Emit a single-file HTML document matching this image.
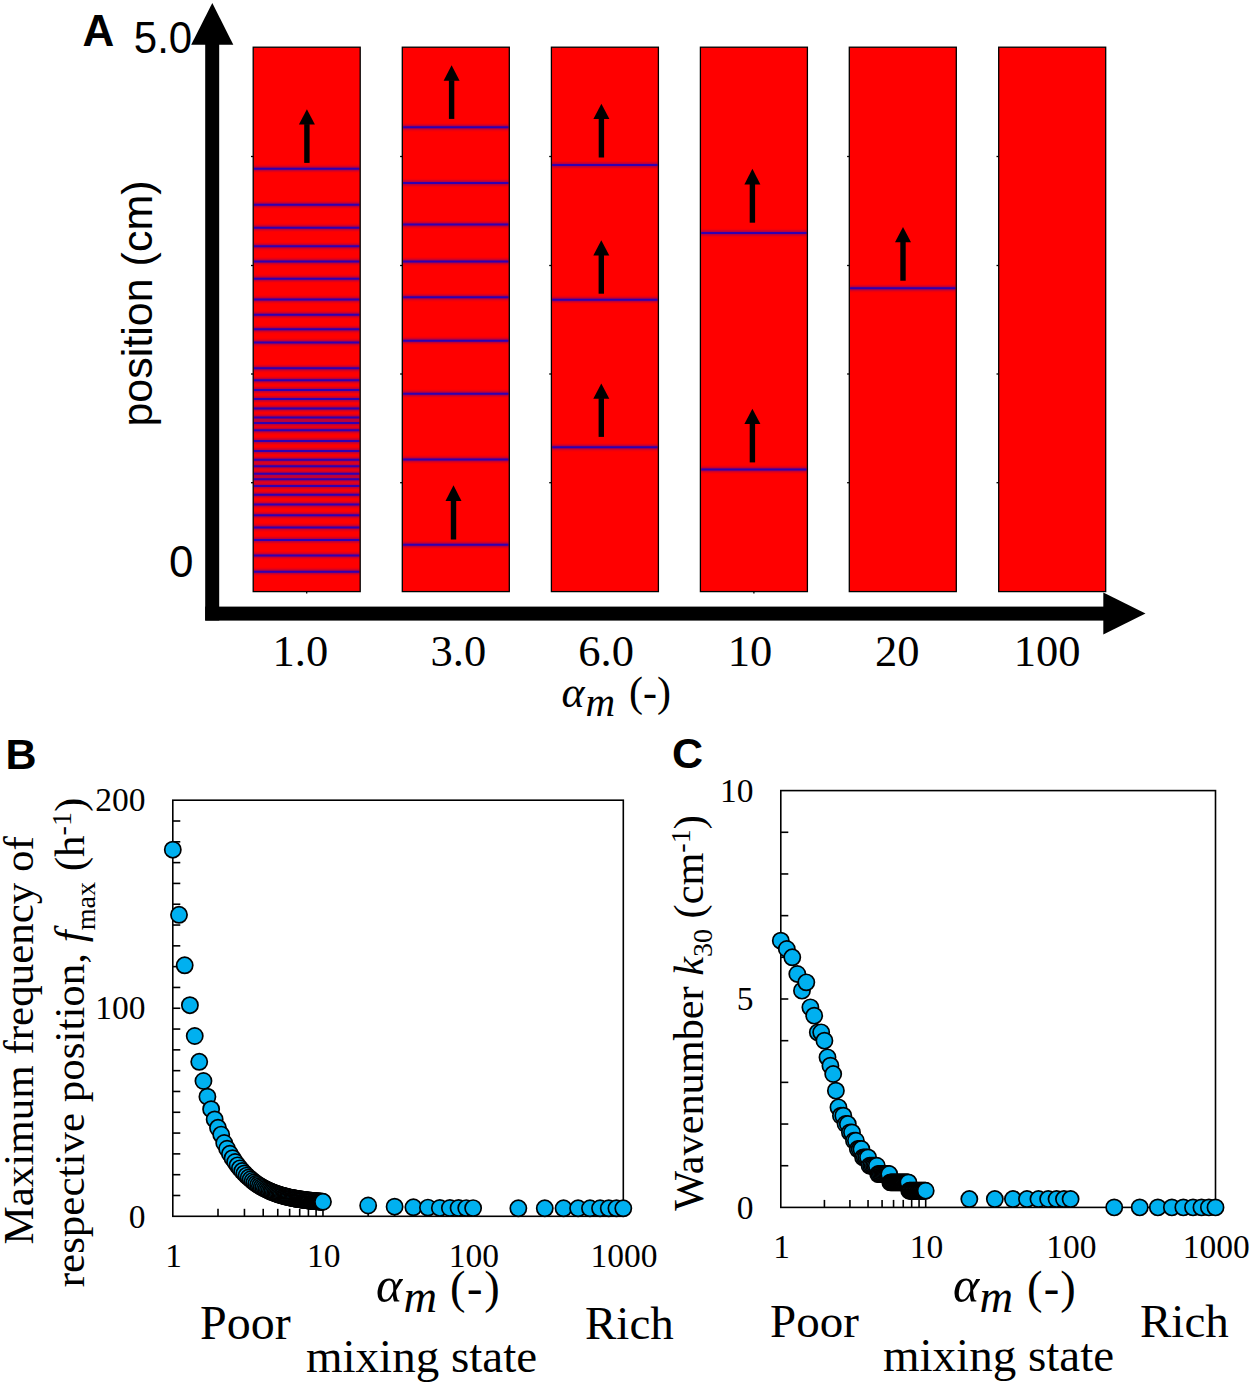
<!DOCTYPE html>
<html><head><meta charset="utf-8"><style>html,body{margin:0;padding:0;background:#fff;}svg{display:block;}</style></head>
<body><svg width="1250" height="1385" viewBox="0 0 1250 1385">
<defs><filter id="lb" filterUnits="userSpaceOnUse" x="0" y="0" width="1250" height="700"><feGaussianBlur stdDeviation="0 0.8"/></filter></defs>
<rect width="1250" height="1385" fill="#fff"/>
<rect x="253.20" y="47.2" width="107.0" height="544.40" fill="#ff0000"/>
<g filter="url(#lb)" opacity="0.45">
<line x1="254.00" x2="359.40" y1="168.7" y2="168.7" stroke="#3000b0" stroke-width="4.5"/>
<line x1="254.00" x2="359.40" y1="204.8" y2="204.8" stroke="#3000b0" stroke-width="4.5"/>
<line x1="254.00" x2="359.40" y1="227.7" y2="227.7" stroke="#3000b0" stroke-width="4.5"/>
<line x1="254.00" x2="359.40" y1="246.2" y2="246.2" stroke="#3000b0" stroke-width="4.5"/>
<line x1="254.00" x2="359.40" y1="261.6" y2="261.6" stroke="#3000b0" stroke-width="4.5"/>
<line x1="254.00" x2="359.40" y1="278.8" y2="278.8" stroke="#3000b0" stroke-width="4.5"/>
<line x1="254.00" x2="359.40" y1="299.5" y2="299.5" stroke="#3000b0" stroke-width="4.5"/>
<line x1="254.00" x2="359.40" y1="314.8" y2="314.8" stroke="#3000b0" stroke-width="4.5"/>
<line x1="254.00" x2="359.40" y1="329.2" y2="329.2" stroke="#3000b0" stroke-width="4.5"/>
<line x1="254.00" x2="359.40" y1="342.4" y2="342.4" stroke="#3000b0" stroke-width="4.5"/>
<line x1="254.00" x2="359.40" y1="368.3" y2="368.3" stroke="#3000b0" stroke-width="4.5"/>
<line x1="254.00" x2="359.40" y1="380.3" y2="380.3" stroke="#3000b0" stroke-width="4.5"/>
<line x1="254.00" x2="359.40" y1="390.1" y2="390.1" stroke="#3000b0" stroke-width="4.5"/>
<line x1="254.00" x2="359.40" y1="398.9" y2="398.9" stroke="#3000b0" stroke-width="4.5"/>
<line x1="254.00" x2="359.40" y1="408.5" y2="408.5" stroke="#3000b0" stroke-width="4.5"/>
<line x1="254.00" x2="359.40" y1="417.6" y2="417.6" stroke="#3000b0" stroke-width="4.5"/>
<line x1="254.00" x2="359.40" y1="423.0" y2="423.0" stroke="#3000b0" stroke-width="4.5"/>
<line x1="254.00" x2="359.40" y1="430.2" y2="430.2" stroke="#3000b0" stroke-width="4.5"/>
<line x1="254.00" x2="359.40" y1="441.0" y2="441.0" stroke="#3000b0" stroke-width="4.5"/>
<line x1="254.00" x2="359.40" y1="450.9" y2="450.9" stroke="#3000b0" stroke-width="4.5"/>
<line x1="254.00" x2="359.40" y1="459.8" y2="459.8" stroke="#3000b0" stroke-width="4.5"/>
<line x1="254.00" x2="359.40" y1="466.3" y2="466.3" stroke="#3000b0" stroke-width="4.5"/>
<line x1="254.00" x2="359.40" y1="473.8" y2="473.8" stroke="#3000b0" stroke-width="4.5"/>
<line x1="254.00" x2="359.40" y1="479.3" y2="479.3" stroke="#3000b0" stroke-width="4.5"/>
<line x1="254.00" x2="359.40" y1="486.0" y2="486.0" stroke="#3000b0" stroke-width="4.5"/>
<line x1="254.00" x2="359.40" y1="494.7" y2="494.7" stroke="#3000b0" stroke-width="4.5"/>
<line x1="254.00" x2="359.40" y1="504.5" y2="504.5" stroke="#3000b0" stroke-width="4.5"/>
<line x1="254.00" x2="359.40" y1="515.2" y2="515.2" stroke="#3000b0" stroke-width="4.5"/>
<line x1="254.00" x2="359.40" y1="527.4" y2="527.4" stroke="#3000b0" stroke-width="4.5"/>
<line x1="254.00" x2="359.40" y1="539.9" y2="539.9" stroke="#3000b0" stroke-width="4.5"/>
<line x1="254.00" x2="359.40" y1="555.6" y2="555.6" stroke="#3000b0" stroke-width="4.5"/>
<line x1="254.00" x2="359.40" y1="571.7" y2="571.7" stroke="#3000b0" stroke-width="4.5"/>
</g>
<line x1="254.00" x2="359.40" y1="168.7" y2="168.7" stroke="#3000b0" stroke-width="2.0"/>
<line x1="254.00" x2="359.40" y1="204.8" y2="204.8" stroke="#3000b0" stroke-width="2.0"/>
<line x1="254.00" x2="359.40" y1="227.7" y2="227.7" stroke="#3000b0" stroke-width="2.0"/>
<line x1="254.00" x2="359.40" y1="246.2" y2="246.2" stroke="#3000b0" stroke-width="2.0"/>
<line x1="254.00" x2="359.40" y1="261.6" y2="261.6" stroke="#3000b0" stroke-width="2.0"/>
<line x1="254.00" x2="359.40" y1="278.8" y2="278.8" stroke="#3000b0" stroke-width="2.0"/>
<line x1="254.00" x2="359.40" y1="299.5" y2="299.5" stroke="#3000b0" stroke-width="2.0"/>
<line x1="254.00" x2="359.40" y1="314.8" y2="314.8" stroke="#3000b0" stroke-width="2.0"/>
<line x1="254.00" x2="359.40" y1="329.2" y2="329.2" stroke="#3000b0" stroke-width="2.0"/>
<line x1="254.00" x2="359.40" y1="342.4" y2="342.4" stroke="#3000b0" stroke-width="2.0"/>
<line x1="254.00" x2="359.40" y1="368.3" y2="368.3" stroke="#3000b0" stroke-width="2.0"/>
<line x1="254.00" x2="359.40" y1="380.3" y2="380.3" stroke="#3000b0" stroke-width="2.0"/>
<line x1="254.00" x2="359.40" y1="390.1" y2="390.1" stroke="#3000b0" stroke-width="2.0"/>
<line x1="254.00" x2="359.40" y1="398.9" y2="398.9" stroke="#3000b0" stroke-width="2.0"/>
<line x1="254.00" x2="359.40" y1="408.5" y2="408.5" stroke="#3000b0" stroke-width="2.0"/>
<line x1="254.00" x2="359.40" y1="417.6" y2="417.6" stroke="#3000b0" stroke-width="2.0"/>
<line x1="254.00" x2="359.40" y1="423.0" y2="423.0" stroke="#3000b0" stroke-width="2.0"/>
<line x1="254.00" x2="359.40" y1="430.2" y2="430.2" stroke="#3000b0" stroke-width="2.0"/>
<line x1="254.00" x2="359.40" y1="441.0" y2="441.0" stroke="#3000b0" stroke-width="2.0"/>
<line x1="254.00" x2="359.40" y1="450.9" y2="450.9" stroke="#3000b0" stroke-width="2.0"/>
<line x1="254.00" x2="359.40" y1="459.8" y2="459.8" stroke="#3000b0" stroke-width="2.0"/>
<line x1="254.00" x2="359.40" y1="466.3" y2="466.3" stroke="#3000b0" stroke-width="2.0"/>
<line x1="254.00" x2="359.40" y1="473.8" y2="473.8" stroke="#3000b0" stroke-width="2.0"/>
<line x1="254.00" x2="359.40" y1="479.3" y2="479.3" stroke="#3000b0" stroke-width="2.0"/>
<line x1="254.00" x2="359.40" y1="486.0" y2="486.0" stroke="#3000b0" stroke-width="2.0"/>
<line x1="254.00" x2="359.40" y1="494.7" y2="494.7" stroke="#3000b0" stroke-width="2.0"/>
<line x1="254.00" x2="359.40" y1="504.5" y2="504.5" stroke="#3000b0" stroke-width="2.0"/>
<line x1="254.00" x2="359.40" y1="515.2" y2="515.2" stroke="#3000b0" stroke-width="2.0"/>
<line x1="254.00" x2="359.40" y1="527.4" y2="527.4" stroke="#3000b0" stroke-width="2.0"/>
<line x1="254.00" x2="359.40" y1="539.9" y2="539.9" stroke="#3000b0" stroke-width="2.0"/>
<line x1="254.00" x2="359.40" y1="555.6" y2="555.6" stroke="#3000b0" stroke-width="2.0"/>
<line x1="254.00" x2="359.40" y1="571.7" y2="571.7" stroke="#3000b0" stroke-width="2.0"/>
<rect x="253.20" y="47.2" width="107.0" height="544.40" fill="none" stroke="#000" stroke-width="1.3"/>
<line x1="251.00" x2="253.20" y1="156.5" y2="156.5" stroke="#000" stroke-width="1.3"/>
<line x1="251.00" x2="253.20" y1="265.5" y2="265.5" stroke="#000" stroke-width="1.3"/>
<line x1="251.00" x2="253.20" y1="374.0" y2="374.0" stroke="#000" stroke-width="1.3"/>
<line x1="251.00" x2="253.20" y1="482.7" y2="482.7" stroke="#000" stroke-width="1.3"/>
<line x1="306.70" x2="306.70" y1="591.6" y2="593.6" stroke="#000" stroke-width="1.3"/>
<rect x="402.30" y="47.2" width="107.0" height="544.40" fill="#ff0000"/>
<g filter="url(#lb)" opacity="0.45">
<line x1="403.10" x2="508.50" y1="127.3" y2="127.3" stroke="#3000b0" stroke-width="4.5"/>
<line x1="403.10" x2="508.50" y1="183.1" y2="183.1" stroke="#3000b0" stroke-width="4.5"/>
<line x1="403.10" x2="508.50" y1="224.4" y2="224.4" stroke="#3000b0" stroke-width="4.5"/>
<line x1="403.10" x2="508.50" y1="261.4" y2="261.4" stroke="#3000b0" stroke-width="4.5"/>
<line x1="403.10" x2="508.50" y1="297.2" y2="297.2" stroke="#3000b0" stroke-width="4.5"/>
<line x1="403.10" x2="508.50" y1="340.7" y2="340.7" stroke="#3000b0" stroke-width="4.5"/>
<line x1="403.10" x2="508.50" y1="393.8" y2="393.8" stroke="#3000b0" stroke-width="4.5"/>
<line x1="403.10" x2="508.50" y1="459.6" y2="459.6" stroke="#3000b0" stroke-width="4.5"/>
<line x1="403.10" x2="508.50" y1="544.7" y2="544.7" stroke="#3000b0" stroke-width="4.5"/>
</g>
<line x1="403.10" x2="508.50" y1="127.3" y2="127.3" stroke="#3000b0" stroke-width="2.0"/>
<line x1="403.10" x2="508.50" y1="183.1" y2="183.1" stroke="#3000b0" stroke-width="2.0"/>
<line x1="403.10" x2="508.50" y1="224.4" y2="224.4" stroke="#3000b0" stroke-width="2.0"/>
<line x1="403.10" x2="508.50" y1="261.4" y2="261.4" stroke="#3000b0" stroke-width="2.0"/>
<line x1="403.10" x2="508.50" y1="297.2" y2="297.2" stroke="#3000b0" stroke-width="2.0"/>
<line x1="403.10" x2="508.50" y1="340.7" y2="340.7" stroke="#3000b0" stroke-width="2.0"/>
<line x1="403.10" x2="508.50" y1="393.8" y2="393.8" stroke="#3000b0" stroke-width="2.0"/>
<line x1="403.10" x2="508.50" y1="459.6" y2="459.6" stroke="#3000b0" stroke-width="2.0"/>
<line x1="403.10" x2="508.50" y1="544.7" y2="544.7" stroke="#3000b0" stroke-width="2.0"/>
<rect x="402.30" y="47.2" width="107.0" height="544.40" fill="none" stroke="#000" stroke-width="1.3"/>
<line x1="400.10" x2="402.30" y1="156.5" y2="156.5" stroke="#000" stroke-width="1.3"/>
<line x1="400.10" x2="402.30" y1="265.5" y2="265.5" stroke="#000" stroke-width="1.3"/>
<line x1="400.10" x2="402.30" y1="374.0" y2="374.0" stroke="#000" stroke-width="1.3"/>
<line x1="400.10" x2="402.30" y1="482.7" y2="482.7" stroke="#000" stroke-width="1.3"/>
<rect x="551.40" y="47.2" width="107.0" height="544.40" fill="#ff0000"/>
<g filter="url(#lb)" opacity="0.45">
<line x1="552.20" x2="657.60" y1="165.0" y2="165.0" stroke="#3000b0" stroke-width="4.5"/>
<line x1="552.20" x2="657.60" y1="299.8" y2="299.8" stroke="#3000b0" stroke-width="4.5"/>
<line x1="552.20" x2="657.60" y1="447.3" y2="447.3" stroke="#3000b0" stroke-width="4.5"/>
</g>
<line x1="552.20" x2="657.60" y1="165.0" y2="165.0" stroke="#3000b0" stroke-width="2.0"/>
<line x1="552.20" x2="657.60" y1="299.8" y2="299.8" stroke="#3000b0" stroke-width="2.0"/>
<line x1="552.20" x2="657.60" y1="447.3" y2="447.3" stroke="#3000b0" stroke-width="2.0"/>
<rect x="551.40" y="47.2" width="107.0" height="544.40" fill="none" stroke="#000" stroke-width="1.3"/>
<line x1="549.20" x2="551.40" y1="156.5" y2="156.5" stroke="#000" stroke-width="1.3"/>
<line x1="549.20" x2="551.40" y1="265.5" y2="265.5" stroke="#000" stroke-width="1.3"/>
<line x1="549.20" x2="551.40" y1="374.0" y2="374.0" stroke="#000" stroke-width="1.3"/>
<line x1="549.20" x2="551.40" y1="482.7" y2="482.7" stroke="#000" stroke-width="1.3"/>
<rect x="700.40" y="47.2" width="107.0" height="544.40" fill="#ff0000"/>
<g filter="url(#lb)" opacity="0.45">
<line x1="701.20" x2="806.60" y1="233.1" y2="233.1" stroke="#3000b0" stroke-width="4.5"/>
<line x1="701.20" x2="806.60" y1="469.6" y2="469.6" stroke="#3000b0" stroke-width="4.5"/>
</g>
<line x1="701.20" x2="806.60" y1="233.1" y2="233.1" stroke="#3000b0" stroke-width="2.0"/>
<line x1="701.20" x2="806.60" y1="469.6" y2="469.6" stroke="#3000b0" stroke-width="2.0"/>
<rect x="700.40" y="47.2" width="107.0" height="544.40" fill="none" stroke="#000" stroke-width="1.3"/>
<line x1="753.90" x2="753.90" y1="591.6" y2="593.6" stroke="#000" stroke-width="1.3"/>
<rect x="849.30" y="47.2" width="107.0" height="544.40" fill="#ff0000"/>
<g filter="url(#lb)" opacity="0.45">
<line x1="850.10" x2="955.50" y1="288.3" y2="288.3" stroke="#3000b0" stroke-width="4.5"/>
</g>
<line x1="850.10" x2="955.50" y1="288.3" y2="288.3" stroke="#3000b0" stroke-width="2.0"/>
<rect x="849.30" y="47.2" width="107.0" height="544.40" fill="none" stroke="#000" stroke-width="1.3"/>
<line x1="847.10" x2="849.30" y1="156.5" y2="156.5" stroke="#000" stroke-width="1.3"/>
<line x1="847.10" x2="849.30" y1="265.5" y2="265.5" stroke="#000" stroke-width="1.3"/>
<line x1="847.10" x2="849.30" y1="374.0" y2="374.0" stroke="#000" stroke-width="1.3"/>
<line x1="847.10" x2="849.30" y1="482.7" y2="482.7" stroke="#000" stroke-width="1.3"/>
<rect x="998.70" y="47.2" width="107.0" height="544.40" fill="#ff0000"/>
<g filter="url(#lb)" opacity="0.45">
</g>
<rect x="998.70" y="47.2" width="107.0" height="544.40" fill="none" stroke="#000" stroke-width="1.3"/>
<line x1="996.50" x2="998.70" y1="156.5" y2="156.5" stroke="#000" stroke-width="1.3"/>
<line x1="996.50" x2="998.70" y1="265.5" y2="265.5" stroke="#000" stroke-width="1.3"/>
<line x1="996.50" x2="998.70" y1="374.0" y2="374.0" stroke="#000" stroke-width="1.3"/>
<line x1="996.50" x2="998.70" y1="482.7" y2="482.7" stroke="#000" stroke-width="1.3"/>
<polygon points="298.90,124.6 314.90,124.6 306.90,109.3" fill="#000"/>
<rect x="304.20" y="124.1" width="5.4" height="38.80" fill="#000"/>
<polygon points="443.60,80.8 459.60,80.8 451.60,65.2" fill="#000"/>
<rect x="448.90" y="80.3" width="5.4" height="38.60" fill="#000"/>
<polygon points="445.50,500.9 461.50,500.9 453.50,485.3" fill="#000"/>
<rect x="450.80" y="500.4" width="5.4" height="39.10" fill="#000"/>
<polygon points="593.40,119.1 609.40,119.1 601.40,103.7" fill="#000"/>
<rect x="598.70" y="118.6" width="5.4" height="38.90" fill="#000"/>
<polygon points="593.30,255.5 609.30,255.5 601.30,240.2" fill="#000"/>
<rect x="598.60" y="255.0" width="5.4" height="38.70" fill="#000"/>
<polygon points="593.30,398.7 609.30,398.7 601.30,383.4" fill="#000"/>
<rect x="598.60" y="398.2" width="5.4" height="38.70" fill="#000"/>
<polygon points="744.40,184.4 760.40,184.4 752.40,168.8" fill="#000"/>
<rect x="749.70" y="183.9" width="5.4" height="38.80" fill="#000"/>
<polygon points="744.40,424.0 760.40,424.0 752.40,408.7" fill="#000"/>
<rect x="749.70" y="423.5" width="5.4" height="38.90" fill="#000"/>
<polygon points="895.00,242.2 911.00,242.2 903.00,227.1" fill="#000"/>
<rect x="900.30" y="241.7" width="5.4" height="39.00" fill="#000"/>
<rect x="205.2" y="44" width="14" height="576.5" fill="#000"/>
<polygon points="191.2,44.8 233.3,44.8 212.3,2.9" fill="#000"/>
<rect x="205.2" y="606.6" width="899" height="14" fill="#000"/>
<polygon points="1103.3,592.6 1103.3,634.4 1145.5,613.6" fill="#000"/>
<text x="82.5" y="46.3" font-family='"Liberation Sans", sans-serif' font-weight="bold" font-size="44">A</text>
<text x="133.8" y="52.6" font-family='"Liberation Sans", sans-serif' font-size="44" transform="translate(133.8 0) scale(0.955 1) translate(-133.8 0)">5.0</text>
<text x="169" y="577.3" font-family='"Liberation Sans", sans-serif' font-size="44">0</text>
<text transform="translate(152.3 303.5) rotate(-90)" text-anchor="middle" font-family='"Liberation Sans", sans-serif' font-size="43">position (cm)</text>
<text x="272.5" y="665.7" font-family='"Liberation Serif", serif' font-size="44.5">1.0</text>
<text x="430.5" y="665.7" font-family='"Liberation Serif", serif' font-size="44.5">3.0</text>
<text x="578.3" y="665.7" font-family='"Liberation Serif", serif' font-size="44.5">6.0</text>
<text x="727.7" y="665.7" font-family='"Liberation Serif", serif' font-size="44.5">10</text>
<text x="874.9" y="665.7" font-family='"Liberation Serif", serif' font-size="44.5">20</text>
<text x="1013.7" y="665.7" font-family='"Liberation Serif", serif' font-size="44.5">100</text>
<text x="561.5" y="707" font-family='"Liberation Serif", serif' font-size="44" font-style="italic">α</text>
<text x="585.5" y="715.5" font-family='"Liberation Serif", serif' font-size="41" font-style="italic">m</text>
<text x="629" y="706" font-family='"Liberation Serif", serif' font-size="42">(-)</text>
<rect x="172.8" y="800.2" width="450.50" height="416.10" fill="none" stroke="#000" stroke-width="1.6"/>
<line x1="172.8" x2="180.3" y1="1195.49" y2="1195.49" stroke="#000" stroke-width="1.6"/>
<line x1="172.8" x2="180.3" y1="1174.69" y2="1174.69" stroke="#000" stroke-width="1.6"/>
<line x1="172.8" x2="180.3" y1="1153.88" y2="1153.88" stroke="#000" stroke-width="1.6"/>
<line x1="172.8" x2="180.3" y1="1133.08" y2="1133.08" stroke="#000" stroke-width="1.6"/>
<line x1="172.8" x2="180.3" y1="1112.28" y2="1112.28" stroke="#000" stroke-width="1.6"/>
<line x1="172.8" x2="180.3" y1="1091.47" y2="1091.47" stroke="#000" stroke-width="1.6"/>
<line x1="172.8" x2="180.3" y1="1070.66" y2="1070.66" stroke="#000" stroke-width="1.6"/>
<line x1="172.8" x2="180.3" y1="1049.86" y2="1049.86" stroke="#000" stroke-width="1.6"/>
<line x1="172.8" x2="180.3" y1="1029.06" y2="1029.06" stroke="#000" stroke-width="1.6"/>
<line x1="172.8" x2="180.3" y1="1008.25" y2="1008.25" stroke="#000" stroke-width="1.6"/>
<line x1="172.8" x2="180.3" y1="987.45" y2="987.45" stroke="#000" stroke-width="1.6"/>
<line x1="172.8" x2="180.3" y1="966.64" y2="966.64" stroke="#000" stroke-width="1.6"/>
<line x1="172.8" x2="180.3" y1="945.84" y2="945.84" stroke="#000" stroke-width="1.6"/>
<line x1="172.8" x2="180.3" y1="925.03" y2="925.03" stroke="#000" stroke-width="1.6"/>
<line x1="172.8" x2="180.3" y1="904.23" y2="904.23" stroke="#000" stroke-width="1.6"/>
<line x1="172.8" x2="180.3" y1="883.42" y2="883.42" stroke="#000" stroke-width="1.6"/>
<line x1="172.8" x2="180.3" y1="862.62" y2="862.62" stroke="#000" stroke-width="1.6"/>
<line x1="172.8" x2="180.3" y1="841.81" y2="841.81" stroke="#000" stroke-width="1.6"/>
<line x1="172.8" x2="180.3" y1="821.01" y2="821.01" stroke="#000" stroke-width="1.6"/>
<line x1="218.00" x2="218.00" y1="1216.3" y2="1208.8" stroke="#000" stroke-width="1.6"/>
<line x1="244.45" x2="244.45" y1="1216.3" y2="1208.8" stroke="#000" stroke-width="1.6"/>
<line x1="263.21" x2="263.21" y1="1216.3" y2="1208.8" stroke="#000" stroke-width="1.6"/>
<line x1="277.76" x2="277.76" y1="1216.3" y2="1208.8" stroke="#000" stroke-width="1.6"/>
<line x1="289.65" x2="289.65" y1="1216.3" y2="1208.8" stroke="#000" stroke-width="1.6"/>
<line x1="299.71" x2="299.71" y1="1216.3" y2="1208.8" stroke="#000" stroke-width="1.6"/>
<line x1="308.41" x2="308.41" y1="1216.3" y2="1208.8" stroke="#000" stroke-width="1.6"/>
<line x1="316.10" x2="316.10" y1="1216.3" y2="1208.8" stroke="#000" stroke-width="1.6"/>
<line x1="322.97" x2="322.97" y1="1216.3" y2="1208.8" stroke="#000" stroke-width="1.6"/>
<line x1="368.17" x2="368.17" y1="1216.3" y2="1208.8" stroke="#000" stroke-width="1.6"/>
<line x1="394.61" x2="394.61" y1="1216.3" y2="1208.8" stroke="#000" stroke-width="1.6"/>
<line x1="413.38" x2="413.38" y1="1216.3" y2="1208.8" stroke="#000" stroke-width="1.6"/>
<line x1="427.93" x2="427.93" y1="1216.3" y2="1208.8" stroke="#000" stroke-width="1.6"/>
<line x1="439.82" x2="439.82" y1="1216.3" y2="1208.8" stroke="#000" stroke-width="1.6"/>
<line x1="449.87" x2="449.87" y1="1216.3" y2="1208.8" stroke="#000" stroke-width="1.6"/>
<line x1="458.58" x2="458.58" y1="1216.3" y2="1208.8" stroke="#000" stroke-width="1.6"/>
<line x1="466.26" x2="466.26" y1="1216.3" y2="1208.8" stroke="#000" stroke-width="1.6"/>
<line x1="473.13" x2="473.13" y1="1216.3" y2="1208.8" stroke="#000" stroke-width="1.6"/>
<line x1="518.34" x2="518.34" y1="1216.3" y2="1208.8" stroke="#000" stroke-width="1.6"/>
<line x1="544.78" x2="544.78" y1="1216.3" y2="1208.8" stroke="#000" stroke-width="1.6"/>
<line x1="563.54" x2="563.54" y1="1216.3" y2="1208.8" stroke="#000" stroke-width="1.6"/>
<line x1="578.10" x2="578.10" y1="1216.3" y2="1208.8" stroke="#000" stroke-width="1.6"/>
<line x1="589.99" x2="589.99" y1="1216.3" y2="1208.8" stroke="#000" stroke-width="1.6"/>
<line x1="600.04" x2="600.04" y1="1216.3" y2="1208.8" stroke="#000" stroke-width="1.6"/>
<line x1="608.75" x2="608.75" y1="1216.3" y2="1208.8" stroke="#000" stroke-width="1.6"/>
<line x1="616.43" x2="616.43" y1="1216.3" y2="1208.8" stroke="#000" stroke-width="1.6"/>
<circle cx="172.80" cy="849.70" r="8.1" fill="#00b0f0" stroke="#000" stroke-width="1.7"/>
<circle cx="179.02" cy="914.80" r="8.1" fill="#00b0f0" stroke="#000" stroke-width="1.7"/>
<circle cx="184.69" cy="965.30" r="8.1" fill="#00b0f0" stroke="#000" stroke-width="1.7"/>
<circle cx="189.91" cy="1005.20" r="8.1" fill="#00b0f0" stroke="#000" stroke-width="1.7"/>
<circle cx="194.74" cy="1036.00" r="8.1" fill="#00b0f0" stroke="#000" stroke-width="1.7"/>
<circle cx="199.24" cy="1061.80" r="8.1" fill="#00b0f0" stroke="#000" stroke-width="1.7"/>
<circle cx="203.45" cy="1081.00" r="8.1" fill="#00b0f0" stroke="#000" stroke-width="1.7"/>
<circle cx="207.41" cy="1096.70" r="8.1" fill="#00b0f0" stroke="#000" stroke-width="1.7"/>
<circle cx="211.13" cy="1109.20" r="8.1" fill="#00b0f0" stroke="#000" stroke-width="1.7"/>
<circle cx="214.66" cy="1119.40" r="8.1" fill="#00b0f0" stroke="#000" stroke-width="1.7"/>
<circle cx="218.00" cy="1127.80" r="8.1" fill="#00b0f0" stroke="#000" stroke-width="1.7"/>
<circle cx="221.19" cy="1134.60" r="8.1" fill="#00b0f0" stroke="#000" stroke-width="1.7"/>
<circle cx="224.22" cy="1142.98" r="8.1" fill="#00b0f0" stroke="#000" stroke-width="1.7"/>
<circle cx="227.12" cy="1148.75" r="8.1" fill="#00b0f0" stroke="#000" stroke-width="1.7"/>
<circle cx="229.90" cy="1153.76" r="8.1" fill="#00b0f0" stroke="#000" stroke-width="1.7"/>
<circle cx="232.56" cy="1158.13" r="8.1" fill="#00b0f0" stroke="#000" stroke-width="1.7"/>
<circle cx="235.12" cy="1161.97" r="8.1" fill="#00b0f0" stroke="#000" stroke-width="1.7"/>
<circle cx="237.58" cy="1165.37" r="8.1" fill="#00b0f0" stroke="#000" stroke-width="1.7"/>
<circle cx="239.95" cy="1168.37" r="8.1" fill="#00b0f0" stroke="#000" stroke-width="1.7"/>
<circle cx="242.24" cy="1171.05" r="8.1" fill="#00b0f0" stroke="#000" stroke-width="1.7"/>
<circle cx="244.45" cy="1173.45" r="8.1" fill="#00b0f0" stroke="#000" stroke-width="1.7"/>
<circle cx="246.59" cy="1175.60" r="8.1" fill="#00b0f0" stroke="#000" stroke-width="1.7"/>
<circle cx="248.66" cy="1177.54" r="8.1" fill="#00b0f0" stroke="#000" stroke-width="1.7"/>
<circle cx="250.66" cy="1179.29" r="8.1" fill="#00b0f0" stroke="#000" stroke-width="1.7"/>
<circle cx="252.61" cy="1180.87" r="8.1" fill="#00b0f0" stroke="#000" stroke-width="1.7"/>
<circle cx="254.50" cy="1182.32" r="8.1" fill="#00b0f0" stroke="#000" stroke-width="1.7"/>
<circle cx="256.34" cy="1183.63" r="8.1" fill="#00b0f0" stroke="#000" stroke-width="1.7"/>
<circle cx="258.12" cy="1184.83" r="8.1" fill="#00b0f0" stroke="#000" stroke-width="1.7"/>
<circle cx="259.86" cy="1185.93" r="8.1" fill="#00b0f0" stroke="#000" stroke-width="1.7"/>
<circle cx="261.56" cy="1186.94" r="8.1" fill="#00b0f0" stroke="#000" stroke-width="1.7"/>
<circle cx="263.21" cy="1187.87" r="8.1" fill="#00b0f0" stroke="#000" stroke-width="1.7"/>
<circle cx="264.82" cy="1188.73" r="8.1" fill="#00b0f0" stroke="#000" stroke-width="1.7"/>
<circle cx="266.39" cy="1189.53" r="8.1" fill="#00b0f0" stroke="#000" stroke-width="1.7"/>
<circle cx="267.93" cy="1190.26" r="8.1" fill="#00b0f0" stroke="#000" stroke-width="1.7"/>
<circle cx="269.43" cy="1190.94" r="8.1" fill="#00b0f0" stroke="#000" stroke-width="1.7"/>
<circle cx="270.89" cy="1191.57" r="8.1" fill="#00b0f0" stroke="#000" stroke-width="1.7"/>
<circle cx="272.32" cy="1192.16" r="8.1" fill="#00b0f0" stroke="#000" stroke-width="1.7"/>
<circle cx="273.73" cy="1192.71" r="8.1" fill="#00b0f0" stroke="#000" stroke-width="1.7"/>
<circle cx="275.10" cy="1193.22" r="8.1" fill="#00b0f0" stroke="#000" stroke-width="1.7"/>
<circle cx="276.44" cy="1193.70" r="8.1" fill="#00b0f0" stroke="#000" stroke-width="1.7"/>
<circle cx="277.76" cy="1194.15" r="8.1" fill="#00b0f0" stroke="#000" stroke-width="1.7"/>
<circle cx="279.05" cy="1194.57" r="8.1" fill="#00b0f0" stroke="#000" stroke-width="1.7"/>
<circle cx="280.32" cy="1194.96" r="8.1" fill="#00b0f0" stroke="#000" stroke-width="1.7"/>
<circle cx="281.56" cy="1195.33" r="8.1" fill="#00b0f0" stroke="#000" stroke-width="1.7"/>
<circle cx="282.78" cy="1195.68" r="8.1" fill="#00b0f0" stroke="#000" stroke-width="1.7"/>
<circle cx="283.98" cy="1196.01" r="8.1" fill="#00b0f0" stroke="#000" stroke-width="1.7"/>
<circle cx="285.15" cy="1196.31" r="8.1" fill="#00b0f0" stroke="#000" stroke-width="1.7"/>
<circle cx="286.31" cy="1196.61" r="8.1" fill="#00b0f0" stroke="#000" stroke-width="1.7"/>
<circle cx="287.44" cy="1196.88" r="8.1" fill="#00b0f0" stroke="#000" stroke-width="1.7"/>
<circle cx="288.56" cy="1197.14" r="8.1" fill="#00b0f0" stroke="#000" stroke-width="1.7"/>
<circle cx="289.65" cy="1197.39" r="8.1" fill="#00b0f0" stroke="#000" stroke-width="1.7"/>
<circle cx="290.73" cy="1197.62" r="8.1" fill="#00b0f0" stroke="#000" stroke-width="1.7"/>
<circle cx="291.79" cy="1197.84" r="8.1" fill="#00b0f0" stroke="#000" stroke-width="1.7"/>
<circle cx="292.83" cy="1198.05" r="8.1" fill="#00b0f0" stroke="#000" stroke-width="1.7"/>
<circle cx="293.86" cy="1198.25" r="8.1" fill="#00b0f0" stroke="#000" stroke-width="1.7"/>
<circle cx="294.87" cy="1198.44" r="8.1" fill="#00b0f0" stroke="#000" stroke-width="1.7"/>
<circle cx="295.87" cy="1198.62" r="8.1" fill="#00b0f0" stroke="#000" stroke-width="1.7"/>
<circle cx="296.85" cy="1198.80" r="8.1" fill="#00b0f0" stroke="#000" stroke-width="1.7"/>
<circle cx="297.82" cy="1198.96" r="8.1" fill="#00b0f0" stroke="#000" stroke-width="1.7"/>
<circle cx="298.77" cy="1199.12" r="8.1" fill="#00b0f0" stroke="#000" stroke-width="1.7"/>
<circle cx="299.71" cy="1199.27" r="8.1" fill="#00b0f0" stroke="#000" stroke-width="1.7"/>
<circle cx="300.63" cy="1199.41" r="8.1" fill="#00b0f0" stroke="#000" stroke-width="1.7"/>
<circle cx="301.54" cy="1199.54" r="8.1" fill="#00b0f0" stroke="#000" stroke-width="1.7"/>
<circle cx="302.44" cy="1199.67" r="8.1" fill="#00b0f0" stroke="#000" stroke-width="1.7"/>
<circle cx="303.33" cy="1199.80" r="8.1" fill="#00b0f0" stroke="#000" stroke-width="1.7"/>
<circle cx="304.21" cy="1199.92" r="8.1" fill="#00b0f0" stroke="#000" stroke-width="1.7"/>
<circle cx="305.07" cy="1200.03" r="8.1" fill="#00b0f0" stroke="#000" stroke-width="1.7"/>
<circle cx="305.92" cy="1200.14" r="8.1" fill="#00b0f0" stroke="#000" stroke-width="1.7"/>
<circle cx="306.76" cy="1200.25" r="8.1" fill="#00b0f0" stroke="#000" stroke-width="1.7"/>
<circle cx="307.59" cy="1200.35" r="8.1" fill="#00b0f0" stroke="#000" stroke-width="1.7"/>
<circle cx="308.41" cy="1200.44" r="8.1" fill="#00b0f0" stroke="#000" stroke-width="1.7"/>
<circle cx="309.22" cy="1200.53" r="8.1" fill="#00b0f0" stroke="#000" stroke-width="1.7"/>
<circle cx="310.02" cy="1200.62" r="8.1" fill="#00b0f0" stroke="#000" stroke-width="1.7"/>
<circle cx="310.81" cy="1200.71" r="8.1" fill="#00b0f0" stroke="#000" stroke-width="1.7"/>
<circle cx="311.60" cy="1200.79" r="8.1" fill="#00b0f0" stroke="#000" stroke-width="1.7"/>
<circle cx="312.37" cy="1200.87" r="8.1" fill="#00b0f0" stroke="#000" stroke-width="1.7"/>
<circle cx="313.13" cy="1200.95" r="8.1" fill="#00b0f0" stroke="#000" stroke-width="1.7"/>
<circle cx="313.88" cy="1201.02" r="8.1" fill="#00b0f0" stroke="#000" stroke-width="1.7"/>
<circle cx="314.63" cy="1201.09" r="8.1" fill="#00b0f0" stroke="#000" stroke-width="1.7"/>
<circle cx="315.37" cy="1201.16" r="8.1" fill="#00b0f0" stroke="#000" stroke-width="1.7"/>
<circle cx="316.10" cy="1201.22" r="8.1" fill="#00b0f0" stroke="#000" stroke-width="1.7"/>
<circle cx="316.82" cy="1201.29" r="8.1" fill="#00b0f0" stroke="#000" stroke-width="1.7"/>
<circle cx="317.53" cy="1201.35" r="8.1" fill="#00b0f0" stroke="#000" stroke-width="1.7"/>
<circle cx="318.23" cy="1201.41" r="8.1" fill="#00b0f0" stroke="#000" stroke-width="1.7"/>
<circle cx="318.93" cy="1201.47" r="8.1" fill="#00b0f0" stroke="#000" stroke-width="1.7"/>
<circle cx="319.62" cy="1201.52" r="8.1" fill="#00b0f0" stroke="#000" stroke-width="1.7"/>
<circle cx="320.30" cy="1201.57" r="8.1" fill="#00b0f0" stroke="#000" stroke-width="1.7"/>
<circle cx="320.98" cy="1201.63" r="8.1" fill="#00b0f0" stroke="#000" stroke-width="1.7"/>
<circle cx="321.65" cy="1201.68" r="8.1" fill="#00b0f0" stroke="#000" stroke-width="1.7"/>
<circle cx="322.31" cy="1201.72" r="8.1" fill="#00b0f0" stroke="#000" stroke-width="1.7"/>
<circle cx="322.97" cy="1201.77" r="8.1" fill="#00b0f0" stroke="#000" stroke-width="1.7"/>
<circle cx="368.17" cy="1205.50" r="8.1" fill="#00b0f0" stroke="#000" stroke-width="1.7"/>
<circle cx="394.61" cy="1206.70" r="8.1" fill="#00b0f0" stroke="#000" stroke-width="1.7"/>
<circle cx="413.38" cy="1207.30" r="8.1" fill="#00b0f0" stroke="#000" stroke-width="1.7"/>
<circle cx="427.93" cy="1207.60" r="8.1" fill="#00b0f0" stroke="#000" stroke-width="1.7"/>
<circle cx="439.82" cy="1207.90" r="8.1" fill="#00b0f0" stroke="#000" stroke-width="1.7"/>
<circle cx="449.87" cy="1208.00" r="8.1" fill="#00b0f0" stroke="#000" stroke-width="1.7"/>
<circle cx="458.58" cy="1208.00" r="8.1" fill="#00b0f0" stroke="#000" stroke-width="1.7"/>
<circle cx="466.26" cy="1208.10" r="8.1" fill="#00b0f0" stroke="#000" stroke-width="1.7"/>
<circle cx="473.13" cy="1208.10" r="8.1" fill="#00b0f0" stroke="#000" stroke-width="1.7"/>
<circle cx="518.34" cy="1208.30" r="8.1" fill="#00b0f0" stroke="#000" stroke-width="1.7"/>
<circle cx="544.78" cy="1208.30" r="8.1" fill="#00b0f0" stroke="#000" stroke-width="1.7"/>
<circle cx="563.54" cy="1208.30" r="8.1" fill="#00b0f0" stroke="#000" stroke-width="1.7"/>
<circle cx="578.10" cy="1208.30" r="8.1" fill="#00b0f0" stroke="#000" stroke-width="1.7"/>
<circle cx="589.99" cy="1208.30" r="8.1" fill="#00b0f0" stroke="#000" stroke-width="1.7"/>
<circle cx="600.04" cy="1208.30" r="8.1" fill="#00b0f0" stroke="#000" stroke-width="1.7"/>
<circle cx="608.75" cy="1208.30" r="8.1" fill="#00b0f0" stroke="#000" stroke-width="1.7"/>
<circle cx="616.43" cy="1208.30" r="8.1" fill="#00b0f0" stroke="#000" stroke-width="1.7"/>
<circle cx="623.30" cy="1208.30" r="8.1" fill="#00b0f0" stroke="#000" stroke-width="1.7"/>
<text x="145.5" y="811.3" text-anchor="end" font-family='"Liberation Serif", serif' font-size="33.5">200</text>
<text x="145.5" y="1019.0" text-anchor="end" font-family='"Liberation Serif", serif' font-size="33.5">100</text>
<text x="145.5" y="1228.0" text-anchor="end" font-family='"Liberation Serif", serif' font-size="33.5">0</text>
<text x="173.50" y="1267" text-anchor="middle" font-family='"Liberation Serif", serif' font-size="33.5">1</text>
<text x="323.67" y="1267" text-anchor="middle" font-family='"Liberation Serif", serif' font-size="33.5">10</text>
<text x="473.83" y="1267" text-anchor="middle" font-family='"Liberation Serif", serif' font-size="33.5">100</text>
<text x="624.00" y="1267" text-anchor="middle" font-family='"Liberation Serif", serif' font-size="33.5">1000</text>
<text transform="translate(33.2 1040.3) rotate(-90)" text-anchor="middle" font-family='"Liberation Serif", serif' font-size="43">Maximum frequency of</text>
<text transform="translate(84.2 1042.5) rotate(-90)" text-anchor="middle" font-family='"Liberation Serif", serif' font-size="43">respective position, <tspan font-style="italic">f</tspan><tspan font-size="28" dy="10.8">max</tspan><tspan dy="-10.8"> (h</tspan><tspan font-size="28" dy="-13.2">-1</tspan><tspan dy="13.2">)</tspan></text>
<text x="376" y="1302" font-family='"Liberation Serif", serif' font-size="50" font-style="italic">α</text>
<text x="403.5" y="1312" font-family='"Liberation Serif", serif' font-size="46.5" font-style="italic">m</text>
<text x="450" y="1303" font-family='"Liberation Serif", serif' font-size="46.5" letter-spacing="1.6">(-)</text>
<text x="200" y="1338.5" font-family='"Liberation Serif", serif' font-size="48">Poor</text>
<text x="585" y="1338.5" font-family='"Liberation Serif", serif' font-size="47">Rich</text>
<text x="306" y="1372.4" font-family='"Liberation Serif", serif' font-size="47">mixing state</text>
<text x="5.5" y="768.6" font-family='"Liberation Sans", sans-serif' font-weight="bold" font-size="43">B</text>
<rect x="780.8" y="790.6" width="434.70" height="416.80" fill="none" stroke="#000" stroke-width="1.6"/>
<line x1="780.8" x2="788.3" y1="1165.72" y2="1165.72" stroke="#000" stroke-width="1.6"/>
<line x1="780.8" x2="788.3" y1="1124.04" y2="1124.04" stroke="#000" stroke-width="1.6"/>
<line x1="780.8" x2="788.3" y1="1082.36" y2="1082.36" stroke="#000" stroke-width="1.6"/>
<line x1="780.8" x2="788.3" y1="1040.68" y2="1040.68" stroke="#000" stroke-width="1.6"/>
<line x1="780.8" x2="788.3" y1="999.00" y2="999.00" stroke="#000" stroke-width="1.6"/>
<line x1="780.8" x2="788.3" y1="957.32" y2="957.32" stroke="#000" stroke-width="1.6"/>
<line x1="780.8" x2="788.3" y1="915.64" y2="915.64" stroke="#000" stroke-width="1.6"/>
<line x1="780.8" x2="788.3" y1="873.96" y2="873.96" stroke="#000" stroke-width="1.6"/>
<line x1="780.8" x2="788.3" y1="832.28" y2="832.28" stroke="#000" stroke-width="1.6"/>
<line x1="824.42" x2="824.42" y1="1207.4" y2="1199.9" stroke="#000" stroke-width="1.6"/>
<line x1="849.93" x2="849.93" y1="1207.4" y2="1199.9" stroke="#000" stroke-width="1.6"/>
<line x1="868.04" x2="868.04" y1="1207.4" y2="1199.9" stroke="#000" stroke-width="1.6"/>
<line x1="882.08" x2="882.08" y1="1207.4" y2="1199.9" stroke="#000" stroke-width="1.6"/>
<line x1="893.55" x2="893.55" y1="1207.4" y2="1199.9" stroke="#000" stroke-width="1.6"/>
<line x1="903.25" x2="903.25" y1="1207.4" y2="1199.9" stroke="#000" stroke-width="1.6"/>
<line x1="911.66" x2="911.66" y1="1207.4" y2="1199.9" stroke="#000" stroke-width="1.6"/>
<line x1="919.07" x2="919.07" y1="1207.4" y2="1199.9" stroke="#000" stroke-width="1.6"/>
<line x1="925.70" x2="925.70" y1="1207.4" y2="1199.9" stroke="#000" stroke-width="1.6"/>
<line x1="969.32" x2="969.32" y1="1207.4" y2="1199.9" stroke="#000" stroke-width="1.6"/>
<line x1="994.83" x2="994.83" y1="1207.4" y2="1199.9" stroke="#000" stroke-width="1.6"/>
<line x1="1012.94" x2="1012.94" y1="1207.4" y2="1199.9" stroke="#000" stroke-width="1.6"/>
<line x1="1026.98" x2="1026.98" y1="1207.4" y2="1199.9" stroke="#000" stroke-width="1.6"/>
<line x1="1038.45" x2="1038.45" y1="1207.4" y2="1199.9" stroke="#000" stroke-width="1.6"/>
<line x1="1048.15" x2="1048.15" y1="1207.4" y2="1199.9" stroke="#000" stroke-width="1.6"/>
<line x1="1056.56" x2="1056.56" y1="1207.4" y2="1199.9" stroke="#000" stroke-width="1.6"/>
<line x1="1063.97" x2="1063.97" y1="1207.4" y2="1199.9" stroke="#000" stroke-width="1.6"/>
<line x1="1070.60" x2="1070.60" y1="1207.4" y2="1199.9" stroke="#000" stroke-width="1.6"/>
<line x1="1114.22" x2="1114.22" y1="1207.4" y2="1199.9" stroke="#000" stroke-width="1.6"/>
<line x1="1139.73" x2="1139.73" y1="1207.4" y2="1199.9" stroke="#000" stroke-width="1.6"/>
<line x1="1157.84" x2="1157.84" y1="1207.4" y2="1199.9" stroke="#000" stroke-width="1.6"/>
<line x1="1171.88" x2="1171.88" y1="1207.4" y2="1199.9" stroke="#000" stroke-width="1.6"/>
<line x1="1183.35" x2="1183.35" y1="1207.4" y2="1199.9" stroke="#000" stroke-width="1.6"/>
<line x1="1193.05" x2="1193.05" y1="1207.4" y2="1199.9" stroke="#000" stroke-width="1.6"/>
<line x1="1201.46" x2="1201.46" y1="1207.4" y2="1199.9" stroke="#000" stroke-width="1.6"/>
<line x1="1208.87" x2="1208.87" y1="1207.4" y2="1199.9" stroke="#000" stroke-width="1.6"/>
<circle cx="780.80" cy="940.65" r="8.1" fill="#00b0f0" stroke="#000" stroke-width="1.7"/>
<circle cx="786.80" cy="948.98" r="8.1" fill="#00b0f0" stroke="#000" stroke-width="1.7"/>
<circle cx="792.27" cy="957.32" r="8.1" fill="#00b0f0" stroke="#000" stroke-width="1.7"/>
<circle cx="797.31" cy="973.99" r="8.1" fill="#00b0f0" stroke="#000" stroke-width="1.7"/>
<circle cx="801.97" cy="990.66" r="8.1" fill="#00b0f0" stroke="#000" stroke-width="1.7"/>
<circle cx="806.32" cy="982.33" r="8.1" fill="#00b0f0" stroke="#000" stroke-width="1.7"/>
<circle cx="810.38" cy="1007.34" r="8.1" fill="#00b0f0" stroke="#000" stroke-width="1.7"/>
<circle cx="814.19" cy="1015.67" r="8.1" fill="#00b0f0" stroke="#000" stroke-width="1.7"/>
<circle cx="817.79" cy="1032.34" r="8.1" fill="#00b0f0" stroke="#000" stroke-width="1.7"/>
<circle cx="821.19" cy="1032.34" r="8.1" fill="#00b0f0" stroke="#000" stroke-width="1.7"/>
<circle cx="824.42" cy="1040.68" r="8.1" fill="#00b0f0" stroke="#000" stroke-width="1.7"/>
<circle cx="827.49" cy="1057.35" r="8.1" fill="#00b0f0" stroke="#000" stroke-width="1.7"/>
<circle cx="830.42" cy="1065.69" r="8.1" fill="#00b0f0" stroke="#000" stroke-width="1.7"/>
<circle cx="833.21" cy="1074.02" r="8.1" fill="#00b0f0" stroke="#000" stroke-width="1.7"/>
<circle cx="835.89" cy="1090.70" r="8.1" fill="#00b0f0" stroke="#000" stroke-width="1.7"/>
<circle cx="838.46" cy="1107.37" r="8.1" fill="#00b0f0" stroke="#000" stroke-width="1.7"/>
<circle cx="840.93" cy="1115.70" r="8.1" fill="#00b0f0" stroke="#000" stroke-width="1.7"/>
<circle cx="843.30" cy="1115.70" r="8.1" fill="#00b0f0" stroke="#000" stroke-width="1.7"/>
<circle cx="845.59" cy="1124.04" r="8.1" fill="#00b0f0" stroke="#000" stroke-width="1.7"/>
<circle cx="847.80" cy="1124.04" r="8.1" fill="#00b0f0" stroke="#000" stroke-width="1.7"/>
<circle cx="849.93" cy="1132.38" r="8.1" fill="#00b0f0" stroke="#000" stroke-width="1.7"/>
<circle cx="852.00" cy="1132.38" r="8.1" fill="#00b0f0" stroke="#000" stroke-width="1.7"/>
<circle cx="854.00" cy="1140.71" r="8.1" fill="#00b0f0" stroke="#000" stroke-width="1.7"/>
<circle cx="855.93" cy="1140.71" r="8.1" fill="#00b0f0" stroke="#000" stroke-width="1.7"/>
<circle cx="857.81" cy="1149.05" r="8.1" fill="#00b0f0" stroke="#000" stroke-width="1.7"/>
<circle cx="859.64" cy="1149.05" r="8.1" fill="#00b0f0" stroke="#000" stroke-width="1.7"/>
<circle cx="861.41" cy="1149.05" r="8.1" fill="#00b0f0" stroke="#000" stroke-width="1.7"/>
<circle cx="863.13" cy="1157.38" r="8.1" fill="#00b0f0" stroke="#000" stroke-width="1.7"/>
<circle cx="864.81" cy="1157.38" r="8.1" fill="#00b0f0" stroke="#000" stroke-width="1.7"/>
<circle cx="866.45" cy="1157.38" r="8.1" fill="#00b0f0" stroke="#000" stroke-width="1.7"/>
<circle cx="868.04" cy="1157.38" r="8.1" fill="#00b0f0" stroke="#000" stroke-width="1.7"/>
<circle cx="869.59" cy="1165.72" r="8.1" fill="#00b0f0" stroke="#000" stroke-width="1.7"/>
<circle cx="871.11" cy="1165.72" r="8.1" fill="#00b0f0" stroke="#000" stroke-width="1.7"/>
<circle cx="872.59" cy="1165.72" r="8.1" fill="#00b0f0" stroke="#000" stroke-width="1.7"/>
<circle cx="874.04" cy="1165.72" r="8.1" fill="#00b0f0" stroke="#000" stroke-width="1.7"/>
<circle cx="875.45" cy="1165.72" r="8.1" fill="#00b0f0" stroke="#000" stroke-width="1.7"/>
<circle cx="876.83" cy="1165.72" r="8.1" fill="#00b0f0" stroke="#000" stroke-width="1.7"/>
<circle cx="878.19" cy="1174.06" r="8.1" fill="#00b0f0" stroke="#000" stroke-width="1.7"/>
<circle cx="879.51" cy="1174.06" r="8.1" fill="#00b0f0" stroke="#000" stroke-width="1.7"/>
<circle cx="880.81" cy="1174.06" r="8.1" fill="#00b0f0" stroke="#000" stroke-width="1.7"/>
<circle cx="882.08" cy="1174.06" r="8.1" fill="#00b0f0" stroke="#000" stroke-width="1.7"/>
<circle cx="883.33" cy="1174.06" r="8.1" fill="#00b0f0" stroke="#000" stroke-width="1.7"/>
<circle cx="884.55" cy="1174.06" r="8.1" fill="#00b0f0" stroke="#000" stroke-width="1.7"/>
<circle cx="885.75" cy="1174.06" r="8.1" fill="#00b0f0" stroke="#000" stroke-width="1.7"/>
<circle cx="886.92" cy="1174.06" r="8.1" fill="#00b0f0" stroke="#000" stroke-width="1.7"/>
<circle cx="888.08" cy="1174.06" r="8.1" fill="#00b0f0" stroke="#000" stroke-width="1.7"/>
<circle cx="889.21" cy="1174.06" r="8.1" fill="#00b0f0" stroke="#000" stroke-width="1.7"/>
<circle cx="890.33" cy="1182.39" r="8.1" fill="#00b0f0" stroke="#000" stroke-width="1.7"/>
<circle cx="891.42" cy="1182.39" r="8.1" fill="#00b0f0" stroke="#000" stroke-width="1.7"/>
<circle cx="892.50" cy="1182.39" r="8.1" fill="#00b0f0" stroke="#000" stroke-width="1.7"/>
<circle cx="893.55" cy="1182.39" r="8.1" fill="#00b0f0" stroke="#000" stroke-width="1.7"/>
<circle cx="894.59" cy="1182.39" r="8.1" fill="#00b0f0" stroke="#000" stroke-width="1.7"/>
<circle cx="895.62" cy="1182.39" r="8.1" fill="#00b0f0" stroke="#000" stroke-width="1.7"/>
<circle cx="896.62" cy="1182.39" r="8.1" fill="#00b0f0" stroke="#000" stroke-width="1.7"/>
<circle cx="897.62" cy="1182.39" r="8.1" fill="#00b0f0" stroke="#000" stroke-width="1.7"/>
<circle cx="898.59" cy="1182.39" r="8.1" fill="#00b0f0" stroke="#000" stroke-width="1.7"/>
<circle cx="899.55" cy="1182.39" r="8.1" fill="#00b0f0" stroke="#000" stroke-width="1.7"/>
<circle cx="900.50" cy="1182.39" r="8.1" fill="#00b0f0" stroke="#000" stroke-width="1.7"/>
<circle cx="901.43" cy="1182.39" r="8.1" fill="#00b0f0" stroke="#000" stroke-width="1.7"/>
<circle cx="902.35" cy="1182.39" r="8.1" fill="#00b0f0" stroke="#000" stroke-width="1.7"/>
<circle cx="903.25" cy="1182.39" r="8.1" fill="#00b0f0" stroke="#000" stroke-width="1.7"/>
<circle cx="904.15" cy="1182.39" r="8.1" fill="#00b0f0" stroke="#000" stroke-width="1.7"/>
<circle cx="905.03" cy="1182.39" r="8.1" fill="#00b0f0" stroke="#000" stroke-width="1.7"/>
<circle cx="905.90" cy="1182.39" r="8.1" fill="#00b0f0" stroke="#000" stroke-width="1.7"/>
<circle cx="906.75" cy="1182.39" r="8.1" fill="#00b0f0" stroke="#000" stroke-width="1.7"/>
<circle cx="907.60" cy="1182.39" r="8.1" fill="#00b0f0" stroke="#000" stroke-width="1.7"/>
<circle cx="908.43" cy="1182.39" r="8.1" fill="#00b0f0" stroke="#000" stroke-width="1.7"/>
<circle cx="909.25" cy="1190.73" r="8.1" fill="#00b0f0" stroke="#000" stroke-width="1.7"/>
<circle cx="910.06" cy="1190.73" r="8.1" fill="#00b0f0" stroke="#000" stroke-width="1.7"/>
<circle cx="910.87" cy="1190.73" r="8.1" fill="#00b0f0" stroke="#000" stroke-width="1.7"/>
<circle cx="911.66" cy="1190.73" r="8.1" fill="#00b0f0" stroke="#000" stroke-width="1.7"/>
<circle cx="912.44" cy="1190.73" r="8.1" fill="#00b0f0" stroke="#000" stroke-width="1.7"/>
<circle cx="913.21" cy="1190.73" r="8.1" fill="#00b0f0" stroke="#000" stroke-width="1.7"/>
<circle cx="913.97" cy="1190.73" r="8.1" fill="#00b0f0" stroke="#000" stroke-width="1.7"/>
<circle cx="914.73" cy="1190.73" r="8.1" fill="#00b0f0" stroke="#000" stroke-width="1.7"/>
<circle cx="915.47" cy="1190.73" r="8.1" fill="#00b0f0" stroke="#000" stroke-width="1.7"/>
<circle cx="916.21" cy="1190.73" r="8.1" fill="#00b0f0" stroke="#000" stroke-width="1.7"/>
<circle cx="916.94" cy="1190.73" r="8.1" fill="#00b0f0" stroke="#000" stroke-width="1.7"/>
<circle cx="917.66" cy="1190.73" r="8.1" fill="#00b0f0" stroke="#000" stroke-width="1.7"/>
<circle cx="918.37" cy="1190.73" r="8.1" fill="#00b0f0" stroke="#000" stroke-width="1.7"/>
<circle cx="919.07" cy="1190.73" r="8.1" fill="#00b0f0" stroke="#000" stroke-width="1.7"/>
<circle cx="919.77" cy="1190.73" r="8.1" fill="#00b0f0" stroke="#000" stroke-width="1.7"/>
<circle cx="920.45" cy="1190.73" r="8.1" fill="#00b0f0" stroke="#000" stroke-width="1.7"/>
<circle cx="921.13" cy="1190.73" r="8.1" fill="#00b0f0" stroke="#000" stroke-width="1.7"/>
<circle cx="921.81" cy="1190.73" r="8.1" fill="#00b0f0" stroke="#000" stroke-width="1.7"/>
<circle cx="922.47" cy="1190.73" r="8.1" fill="#00b0f0" stroke="#000" stroke-width="1.7"/>
<circle cx="923.13" cy="1190.73" r="8.1" fill="#00b0f0" stroke="#000" stroke-width="1.7"/>
<circle cx="923.78" cy="1190.73" r="8.1" fill="#00b0f0" stroke="#000" stroke-width="1.7"/>
<circle cx="924.43" cy="1190.73" r="8.1" fill="#00b0f0" stroke="#000" stroke-width="1.7"/>
<circle cx="925.07" cy="1190.73" r="8.1" fill="#00b0f0" stroke="#000" stroke-width="1.7"/>
<circle cx="925.70" cy="1190.73" r="8.1" fill="#00b0f0" stroke="#000" stroke-width="1.7"/>
<circle cx="969.32" cy="1199.06" r="8.1" fill="#00b0f0" stroke="#000" stroke-width="1.7"/>
<circle cx="994.83" cy="1199.06" r="8.1" fill="#00b0f0" stroke="#000" stroke-width="1.7"/>
<circle cx="1012.94" cy="1199.06" r="8.1" fill="#00b0f0" stroke="#000" stroke-width="1.7"/>
<circle cx="1026.98" cy="1199.06" r="8.1" fill="#00b0f0" stroke="#000" stroke-width="1.7"/>
<circle cx="1038.45" cy="1199.06" r="8.1" fill="#00b0f0" stroke="#000" stroke-width="1.7"/>
<circle cx="1048.15" cy="1199.06" r="8.1" fill="#00b0f0" stroke="#000" stroke-width="1.7"/>
<circle cx="1056.56" cy="1199.06" r="8.1" fill="#00b0f0" stroke="#000" stroke-width="1.7"/>
<circle cx="1063.97" cy="1199.06" r="8.1" fill="#00b0f0" stroke="#000" stroke-width="1.7"/>
<circle cx="1070.60" cy="1199.06" r="8.1" fill="#00b0f0" stroke="#000" stroke-width="1.7"/>
<circle cx="1114.22" cy="1207.40" r="8.1" fill="#00b0f0" stroke="#000" stroke-width="1.7"/>
<circle cx="1139.73" cy="1207.40" r="8.1" fill="#00b0f0" stroke="#000" stroke-width="1.7"/>
<circle cx="1157.84" cy="1207.40" r="8.1" fill="#00b0f0" stroke="#000" stroke-width="1.7"/>
<circle cx="1171.88" cy="1207.40" r="8.1" fill="#00b0f0" stroke="#000" stroke-width="1.7"/>
<circle cx="1183.35" cy="1207.40" r="8.1" fill="#00b0f0" stroke="#000" stroke-width="1.7"/>
<circle cx="1193.05" cy="1207.40" r="8.1" fill="#00b0f0" stroke="#000" stroke-width="1.7"/>
<circle cx="1201.46" cy="1207.40" r="8.1" fill="#00b0f0" stroke="#000" stroke-width="1.7"/>
<circle cx="1208.87" cy="1207.40" r="8.1" fill="#00b0f0" stroke="#000" stroke-width="1.7"/>
<circle cx="1215.50" cy="1207.40" r="8.1" fill="#00b0f0" stroke="#000" stroke-width="1.7"/>
<text x="753.5" y="802.0" text-anchor="end" font-family='"Liberation Serif", serif' font-size="33.5">10</text>
<text x="753.5" y="1010.2" text-anchor="end" font-family='"Liberation Serif", serif' font-size="33.5">5</text>
<text x="753.5" y="1218.7" text-anchor="end" font-family='"Liberation Serif", serif' font-size="33.5">0</text>
<text x="781.50" y="1258.2" text-anchor="middle" font-family='"Liberation Serif", serif' font-size="33.5">1</text>
<text x="926.40" y="1258.2" text-anchor="middle" font-family='"Liberation Serif", serif' font-size="33.5">10</text>
<text x="1071.30" y="1258.2" text-anchor="middle" font-family='"Liberation Serif", serif' font-size="33.5">100</text>
<text x="1216.20" y="1258.2" text-anchor="middle" font-family='"Liberation Serif", serif' font-size="33.5">1000</text>
<text transform="translate(703.2 1013) rotate(-90)" text-anchor="middle" font-family='"Liberation Serif", serif' font-size="42.3">Wavenumber <tspan font-style="italic">k</tspan><tspan font-size="28" dy="8.7">30</tspan><tspan dy="-8.7"> (cm</tspan><tspan font-size="28" dy="-13.5">-1</tspan><tspan dy="13.5">)</tspan></text>
<text x="953" y="1302" font-family='"Liberation Serif", serif' font-size="50" font-style="italic">α</text>
<text x="979.5" y="1312" font-family='"Liberation Serif", serif' font-size="46.5" font-style="italic">m</text>
<text x="1027" y="1303" font-family='"Liberation Serif", serif' font-size="46.5" letter-spacing="1.2">(-)</text>
<text x="770" y="1337" font-family='"Liberation Serif", serif' font-size="47">Poor</text>
<text x="1140" y="1337" font-family='"Liberation Serif", serif' font-size="47">Rich</text>
<text x="883" y="1371.2" font-family='"Liberation Serif", serif' font-size="47">mixing state</text>
<text x="672" y="768.4" font-family='"Liberation Sans", sans-serif' font-weight="bold" font-size="43">C</text>
</svg></body></html>
